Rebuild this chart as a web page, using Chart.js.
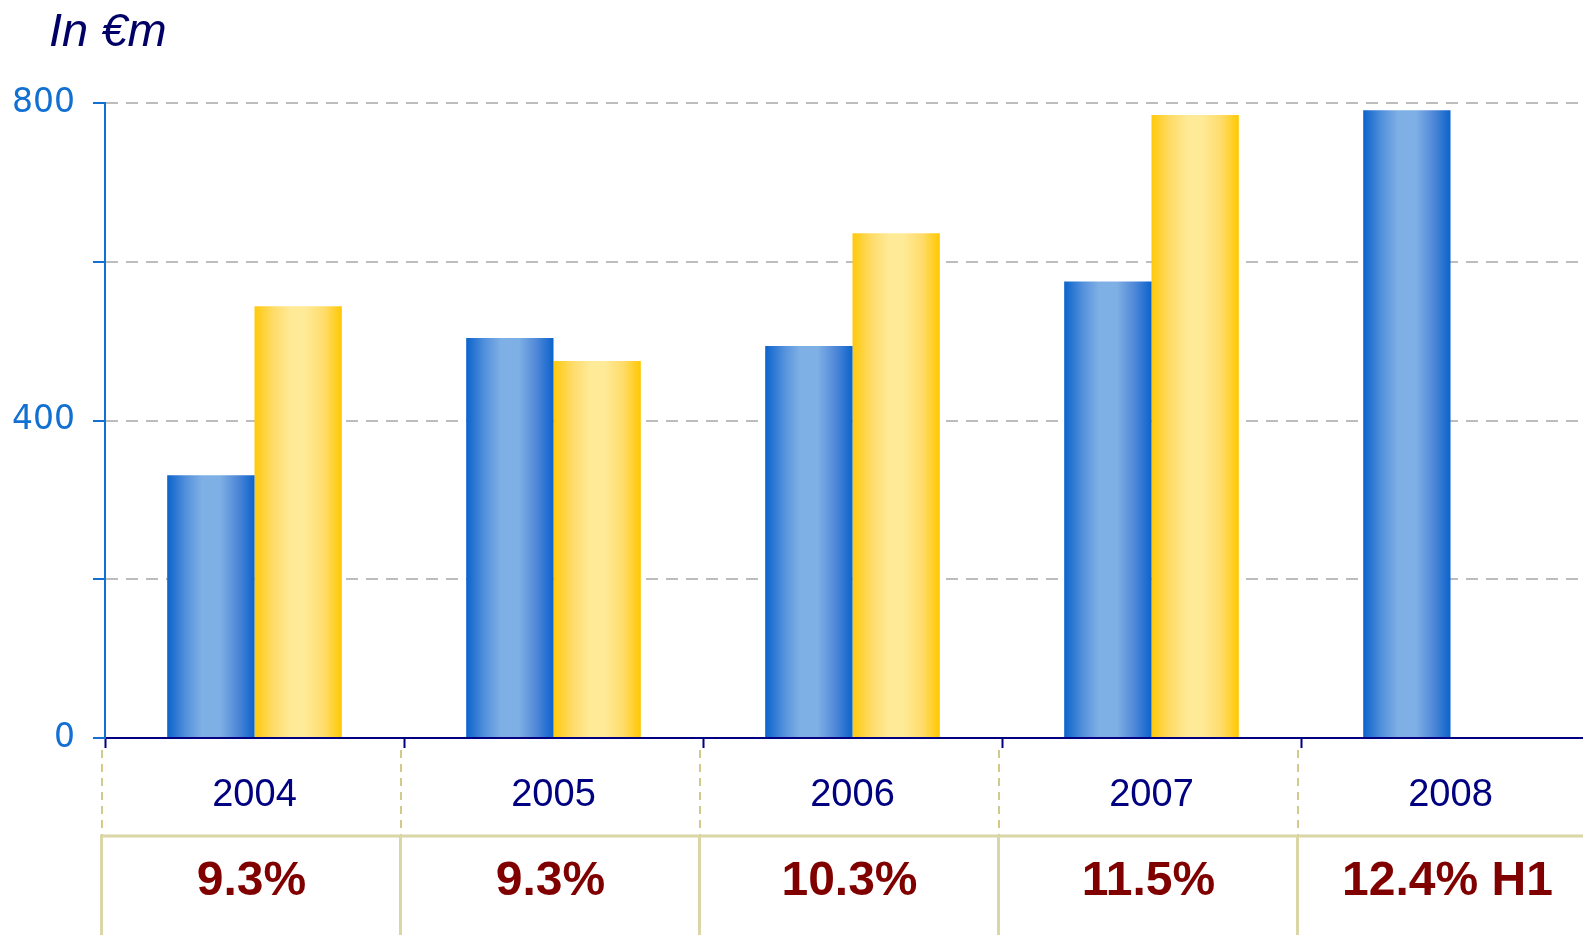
<!DOCTYPE html>
<html><head><meta charset="utf-8">
<script src="https://cdn.jsdelivr.net/npm/chart.js@4.4.1/dist/chart.umd.min.js"></script>
<style>html,body{margin:0;padding:0;overflow:hidden;background:#fff;} #wrap{width:1604px;height:935px;}</style>
</head><body><div id="wrap"><canvas id="c" width="1604" height="935"></canvas></div>
<script>
// ---- data ----
const years = ['2004', '2005', '2006', '2007', '2008'];
const seriesBlue = [331, 504, 494, 575, 791];
const seriesYellow = [544, 475, 636, 785, null];
const marginLabels = ['9.3%', '9.3%', '10.3%', '11.5%', '12.4% H1'];
const yLabeledTicks = [0, 400, 800];
const unitLabel = 'In €m';

// ---- styling ----
const CAT_PCT = 0.584;
const blueStops = [[0, '#0b63cc'], [0.22, '#5592dc'], [0.4, '#7fb0e5'], [0.6, '#7fb0e5'], [0.8, '#5189d8'], [1, '#0b63cc']];
const yellowStops = [[0, '#ffc90a'], [0.22, '#ffdc6a'], [0.42, '#ffea98'], [0.58, '#ffea98'], [0.8, '#ffdc6a'], [1, '#ffc800']];

function barGradient(c, stops, side) {
  const chart = c.chart;
  const xs = chart.scales && chart.scales.x;
  if (c.type !== 'data' || !chart.chartArea || !xs) return stops[2][1];
  const catW = xs.width / years.length;
  const bw = catW * CAT_PCT / 2;
  const center = xs.getPixelForValue(c.dataIndex);
  const x0 = side === 0 ? center - bw : center;
  const g = chart.ctx.createLinearGradient(x0, 0, x0 + bw, 0);
  stops.forEach(s => g.addColorStop(s[0], s[1]));
  return g;
}

const tablePlugin = {
  id: 'tablePlugin',
  afterDraw(chart) {
    const { ctx, chartArea } = chart;
    const xs = chart.scales.x;
    const n = years.length;
    const catW = xs.width / n;
    const axisY = chartArea.bottom;
    const rowSplit = 836;
    const bottom = chart.height;
    ctx.save();
    ctx.strokeStyle = '#d1ca8c';
    ctx.lineWidth = 2;
    ctx.setLineDash([8, 6]);
    for (let i = 0; i <= n; i++) {
      const bx = xs.left + i * catW - 3;
      ctx.beginPath(); ctx.moveTo(bx, axisY + 12); ctx.lineTo(bx, rowSplit); ctx.stroke();
    }
    ctx.setLineDash([]);
    ctx.strokeStyle = '#dbd6a6';
    ctx.lineWidth = 3;
    ctx.beginPath(); ctx.moveTo(xs.left - 5, rowSplit); ctx.lineTo(chart.width, rowSplit); ctx.stroke();
    for (let i = 0; i <= n; i++) {
      const bx = xs.left + i * catW - 3.5;
      ctx.beginPath(); ctx.moveTo(bx, rowSplit); ctx.lineTo(bx, bottom); ctx.stroke();
    }
    ctx.fillStyle = '#800000';
    ctx.font = 'bold 48px "Liberation Sans", Arial, sans-serif';
    ctx.textAlign = 'center';
    ctx.textBaseline = 'alphabetic';
    marginLabels.forEach((t, i) => ctx.fillText(t, xs.getPixelForValue(i) - 3, 895));
    ctx.fillStyle = '#000066';
    ctx.font = 'italic 47px "Liberation Sans", Arial, sans-serif';
    ctx.textAlign = 'left';
    ctx.fillText(unitLabel, 49, 46);
    ctx.restore();
  }
};

new Chart(document.getElementById('c'), {
  type: 'bar',
  data: {
    labels: years,
    datasets: [
      { label: 'A', data: seriesBlue, backgroundColor: c => barGradient(c, blueStops, 0), borderWidth: 0,
        categoryPercentage: CAT_PCT, barPercentage: 1.0 },
      { label: 'B', data: seriesYellow, backgroundColor: c => barGradient(c, yellowStops, 1), borderWidth: 0,
        categoryPercentage: CAT_PCT, barPercentage: 1.0 }
    ]
  },
  options: {
    responsive: false,
    animation: false,
    layout: { padding: { top: 103, right: 4, left: 0, bottom: 0 } },
    plugins: { legend: { display: false }, tooltip: { enabled: false } },
    scales: {
      x: {
        type: 'category',
        offset: true,
        grid: { offset: true, drawOnChartArea: false, drawTicks: true, tickLength: 10, tickColor: '#000080', tickWidth: 2 },
        border: { color: '#000080', width: 2 },
        ticks: { color: '#000080', font: { family: '"Liberation Sans", Arial, sans-serif', size: 38 }, padding: 25, maxRotation: 0, autoSkip: false },
        afterFit(s) { s.height = 197; }
      },
      y: {
        min: 0, max: 800,
        ticks: {
          stepSize: 200,
          callback: v => yLabeledTicks.includes(v) ? String(v) : '',
          color: '#1170d2',
          font: { family: '"DejaVu Sans", Verdana, sans-serif', size: 33 },
          padding: 18
        },
        grid: {
          color: c => (c.tick && c.tick.value === 0) ? 'rgba(0,0,0,0)' : '#bdbdbd',
          lineWidth: 2, tickColor: '#1170d2', tickLength: 12, tickWidth: 2, tickBorderDash: []
        },
        border: { color: '#1170d2', width: 2, dash: [12, 8] },
        afterFit(s) { s.width = 105; }
      }
    }
  },
  plugins: [tablePlugin]
});
</script>
</body></html>
